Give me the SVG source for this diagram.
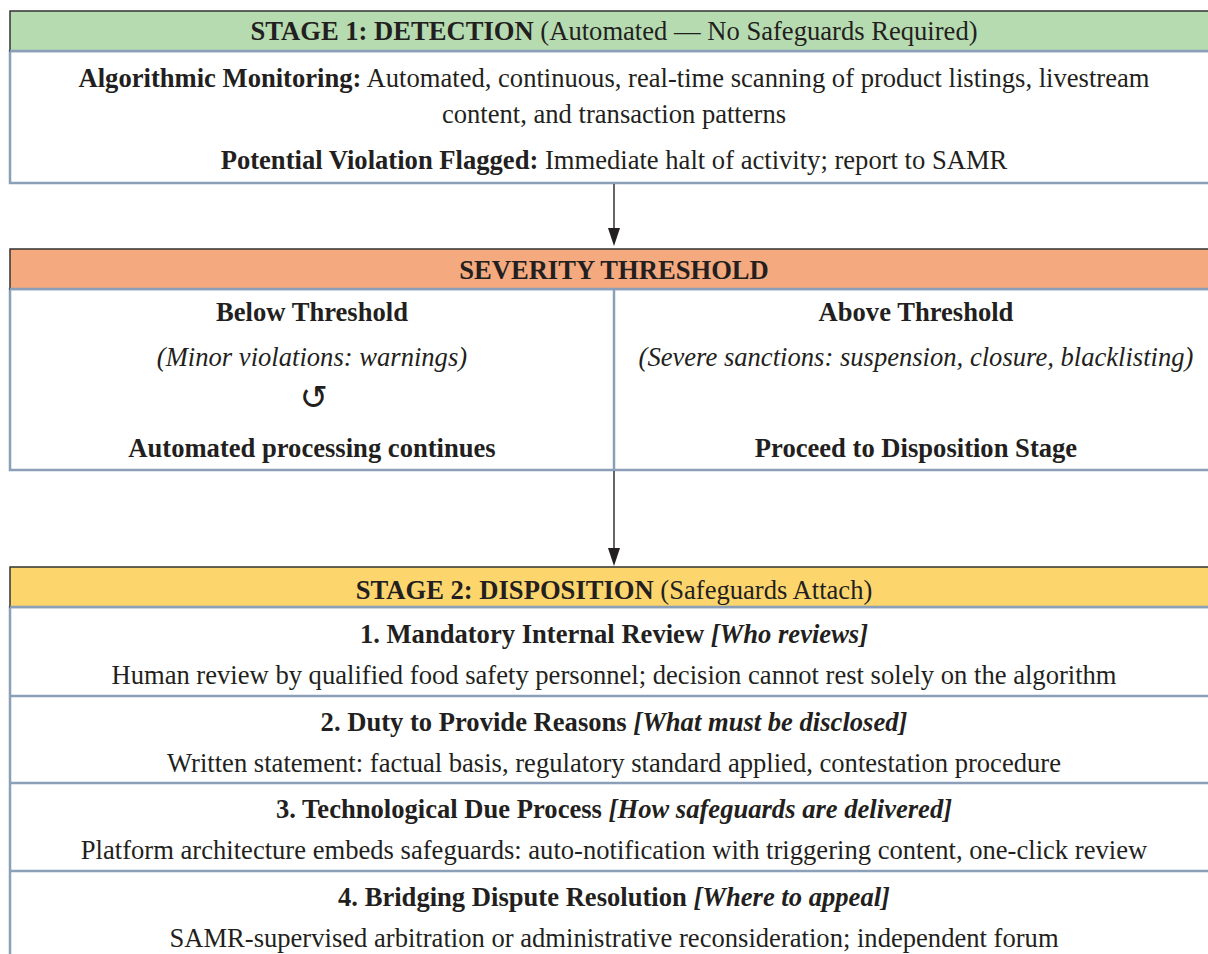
<svg xmlns="http://www.w3.org/2000/svg" width="1208" height="954" viewBox="0 0 1208 954">
<defs>
<style>
text{font-family:"Liberation Serif","Times New Roman",serif;font-size:26.6px;fill:#231f20;text-anchor:middle}
.b{font-weight:bold}
.i{font-style:italic}
.bi{font-weight:bold;font-style:italic}
.hdr{stroke:#333;stroke-width:1.5}
.body{fill:#fff;stroke:#8c9fb8;stroke-width:2.5}
.div{stroke:#8c9fb8;stroke-width:2.5}
.conn{stroke:#555;stroke-width:1.8;fill:none}
.head{fill:#231f20}
</style>
</defs>
<rect width="1208" height="954" fill="#fff"/>

<g id="stage1">
<rect class="body" x="10" y="51" width="1220" height="132"/>
<rect class="hdr" x="10" y="11" width="1220" height="40" fill="#b6dbb0"/>
<line class="div" x1="10" y1="51" x2="1230" y2="51"/>
<text x="614" y="40"><tspan class="b">STAGE 1: DETECTION</tspan> (Automated — No Safeguards Required)</text>
<text x="614" y="87"><tspan class="b">Algorithmic Monitoring:</tspan> Automated, continuous, real-time scanning of product listings, livestream</text>
<text x="614" y="123">content, and transaction patterns</text>
<text x="614" y="169"><tspan class="b">Potential Violation Flagged:</tspan> Immediate halt of activity; report to SAMR</text>
</g>

<g id="severity">
<rect class="body" x="10" y="289" width="1220" height="181"/>
<rect class="hdr" x="10" y="249" width="1220" height="40" fill="#f4aa7e"/>
<line class="div" x1="10" y1="289" x2="1230" y2="289"/>
<line class="div" x1="614" y1="289" x2="614" y2="470"/>
<text class="b" x="614" y="279">SEVERITY THRESHOLD</text>
<g id="below">
<text class="b" x="312" y="321">Below Threshold</text>
<text class="i" x="312" y="366">(Minor violations: warnings)</text>
<text x="314" y="409" style="font-family:'DejaVu Sans',sans-serif;font-size:34px">↺</text>
<text class="b" x="312" y="457">Automated processing continues</text>
</g>
<g id="above">
<text class="b" x="916" y="321">Above Threshold</text>
<text class="i" x="916" y="366">(Severe sanctions: suspension, closure, blacklisting)</text>
<text class="b" x="916" y="457">Proceed to Disposition Stage</text>
</g>
</g>

<g id="stage2">
<rect class="body" x="10" y="607" width="1220" height="360"/>
<rect class="hdr" x="10" y="567" width="1220" height="40" fill="#fdd56d"/>
<line class="div" x1="10" y1="607" x2="1230" y2="607"/>
<line class="div" x1="10" y1="696" x2="1230" y2="696"/>
<line class="div" x1="10" y1="783" x2="1230" y2="783"/>
<line class="div" x1="10" y1="871" x2="1230" y2="871"/>
<text x="614" y="599"><tspan class="b">STAGE 2: DISPOSITION</tspan> (Safeguards Attach)</text>
<g id="row1">
<text x="614" y="643"><tspan class="b">1. Mandatory Internal Review </tspan><tspan class="bi">[Who reviews]</tspan></text>
<text x="614" y="684">Human review by qualified food safety personnel; decision cannot rest solely on the algorithm</text>
</g>
<g id="row2">
<text x="614" y="731"><tspan class="b">2. Duty to Provide Reasons </tspan><tspan class="bi">[What must be disclosed]</tspan></text>
<text x="614" y="772">Written statement: factual basis, regulatory standard applied, contestation procedure</text>
</g>
<g id="row3">
<text x="614" y="818"><tspan class="b">3. Technological Due Process </tspan><tspan class="bi">[How safeguards are delivered]</tspan></text>
<text x="614" y="859">Platform architecture embeds safeguards: auto-notification with triggering content, one-click review</text>
</g>
<g id="row4">
<text x="614" y="906"><tspan class="b">4. Bridging Dispute Resolution </tspan><tspan class="bi">[Where to appeal]</tspan></text>
<text x="614" y="947">SAMR-supervised arbitration or administrative reconsideration; independent forum</text>
</g>
</g>

<g id="connectors">
<line class="conn" x1="614" y1="184" x2="614" y2="230"/>
<path class="head" d="M608,228 L620,228 L614,246 Z"/>
<line class="conn" x1="614" y1="471" x2="614" y2="550"/>
<path class="head" d="M608,548 L620,548 L614,566 Z"/>
</g>
</svg>
